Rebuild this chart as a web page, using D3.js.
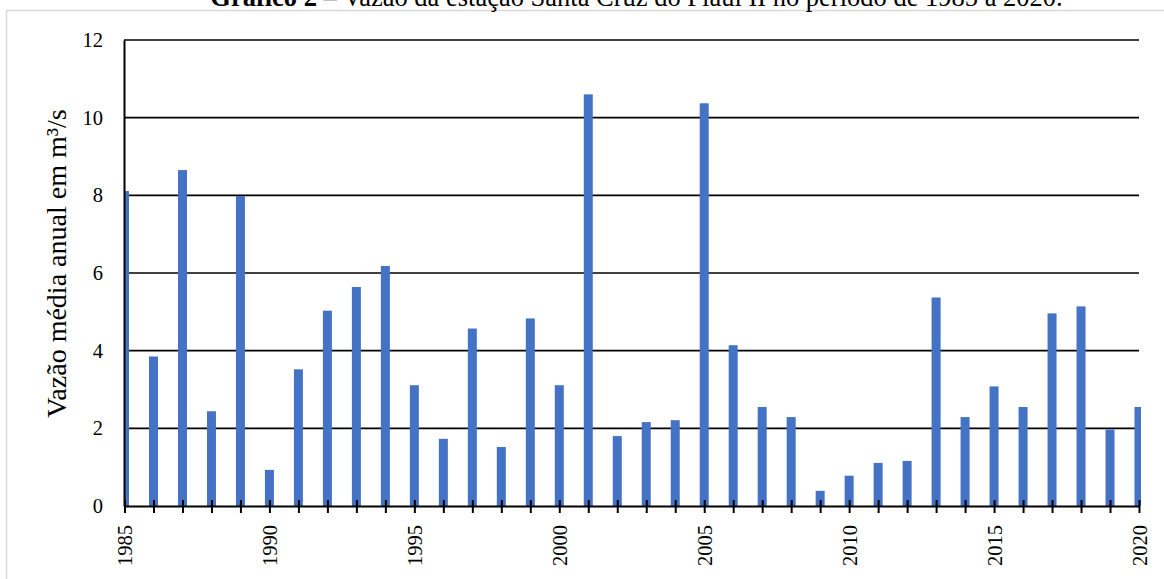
<!DOCTYPE html>
<html>
<head>
<meta charset="utf-8">
<script src="https://cdn.jsdelivr.net/npm/d3@7"></script>
<style>
  html, body { margin: 0; padding: 0; background: #fff; }
  svg { display: block; }
  svg text { font-family: "Liberation Serif", "Times New Roman", serif; fill: #000; }
</style>
</head>
<body>
<svg id="chart" width="1164" height="579"></svg>
<script>
// Annual mean discharge (m³/s), station Santa Cruz do Piauí II
const years = d3.range(1985, 2021);
const discharge = [
  8.11, 3.85, 8.65, 2.44, 7.98, 0.93, 3.52, 5.03, 5.64, 6.18,
  3.11, 1.73, 4.57, 1.52, 4.83, 3.11, 10.60, 1.80, 2.16, 2.21,
  10.37, 4.14, 2.55, 2.29, 0.39, 0.78, 1.11, 1.16, 5.37, 2.29,
  3.08, 2.55, 4.96, 5.14, 1.97, 2.55
];
const yTicks = [0, 2, 4, 6, 8, 10, 12];
const xLabelYears = [1985, 1990, 1995, 2000, 2005, 2010, 2015, 2020];
const titleBold = "Gráfico 2";
const titleRest = " – Vazão da estação Santa Cruz do Piauí II no período de 1985 a 2020.";
const yTitle = "Vazão média anual em m³/s";

const svg = d3.select("#chart");

const x = d3.scaleLinear().domain([1985, 2020]).range([124.5, 1139]);
const y = d3.scaleLinear().domain([0, 12]).range([506, 40]);
const barW = 9;

// outer frame
svg.append("rect")
  .attr("x", 6.5).attr("y", 10.5)
  .attr("width", 1200).attr("height", 600)
  .attr("fill", "none").attr("stroke", "#d9d9d9").attr("stroke-width", 1.5);

// title (bold lead-in followed by regular text)
const title = svg.append("text")
  .attr("x", 636.5).attr("y", 6)
  .attr("text-anchor", "middle")
  .style("font-size", "26.5px");
title.append("tspan").style("font-weight", "bold").text(titleBold);
title.append("tspan").text(titleRest);

// horizontal gridlines
svg.append("g")
  .selectAll("line")
  .data(yTicks.filter(d => d > 0))
  .join("line")
  .attr("x1", x(1985) - 0.5).attr("x2", x(2020))
  .attr("y1", d => y(d)).attr("y2", d => y(d))
  .attr("stroke", "#000").attr("stroke-width", 1.6);

// bars, clipped to the plotting band
svg.append("clipPath").attr("id", "plotClip")
  .append("rect").attr("x", 124).attr("y", 0).attr("width", 1141 - 124).attr("height", 506);

svg.append("g")
  .attr("clip-path", "url(#plotClip)")
  .selectAll("rect")
  .data(years.map((yr, i) => ({ yr, v: discharge[i] })))
  .join("rect")
  .attr("x", d => x(d.yr) - barW / 2)
  .attr("width", barW)
  .attr("y", d => y(d.v))
  .attr("height", d => y(0) - y(d.v))
  .attr("fill", "#4472C4");

// y axis
const yAxis = d3.axisLeft(y).tickValues(yTicks).tickSize(0).tickPadding(21)
  .tickFormat(d3.format("d"));
const gy = svg.append("g").attr("transform", "translate(124,0)").call(yAxis);
gy.select(".domain").attr("stroke", "#000").attr("stroke-width", 2);
gy.selectAll("text").style("font-size", "20.5px");

// x axis with crossing tick marks
const xAxis = d3.axisBottom(x).tickValues(years).tickSizeInner(7).tickSizeOuter(0)
  .tickFormat(d => xLabelYears.includes(d) ? String(d) : "");
const gx = svg.append("g").attr("transform", `translate(0,${y(0)})`).call(xAxis);
gx.select(".domain").attr("stroke", "#000").attr("stroke-width", 2);
gx.selectAll(".tick line").attr("y1", -6).attr("y2", 7)
  .attr("stroke", "#000").attr("stroke-width", 2);
gx.selectAll(".tick text")
  .style("font-size", "20.5px")
  .attr("text-anchor", "end")
  .attr("transform", "rotate(-90)")
  .attr("x", -19).attr("y", 0).attr("dy", "0.35em");

// y axis title
svg.append("text")
  .attr("transform", "translate(66,263.5) rotate(-90)")
  .attr("text-anchor", "middle")
  .style("font-size", "28px")
  .text(yTitle);
</script>
</body>
</html>
